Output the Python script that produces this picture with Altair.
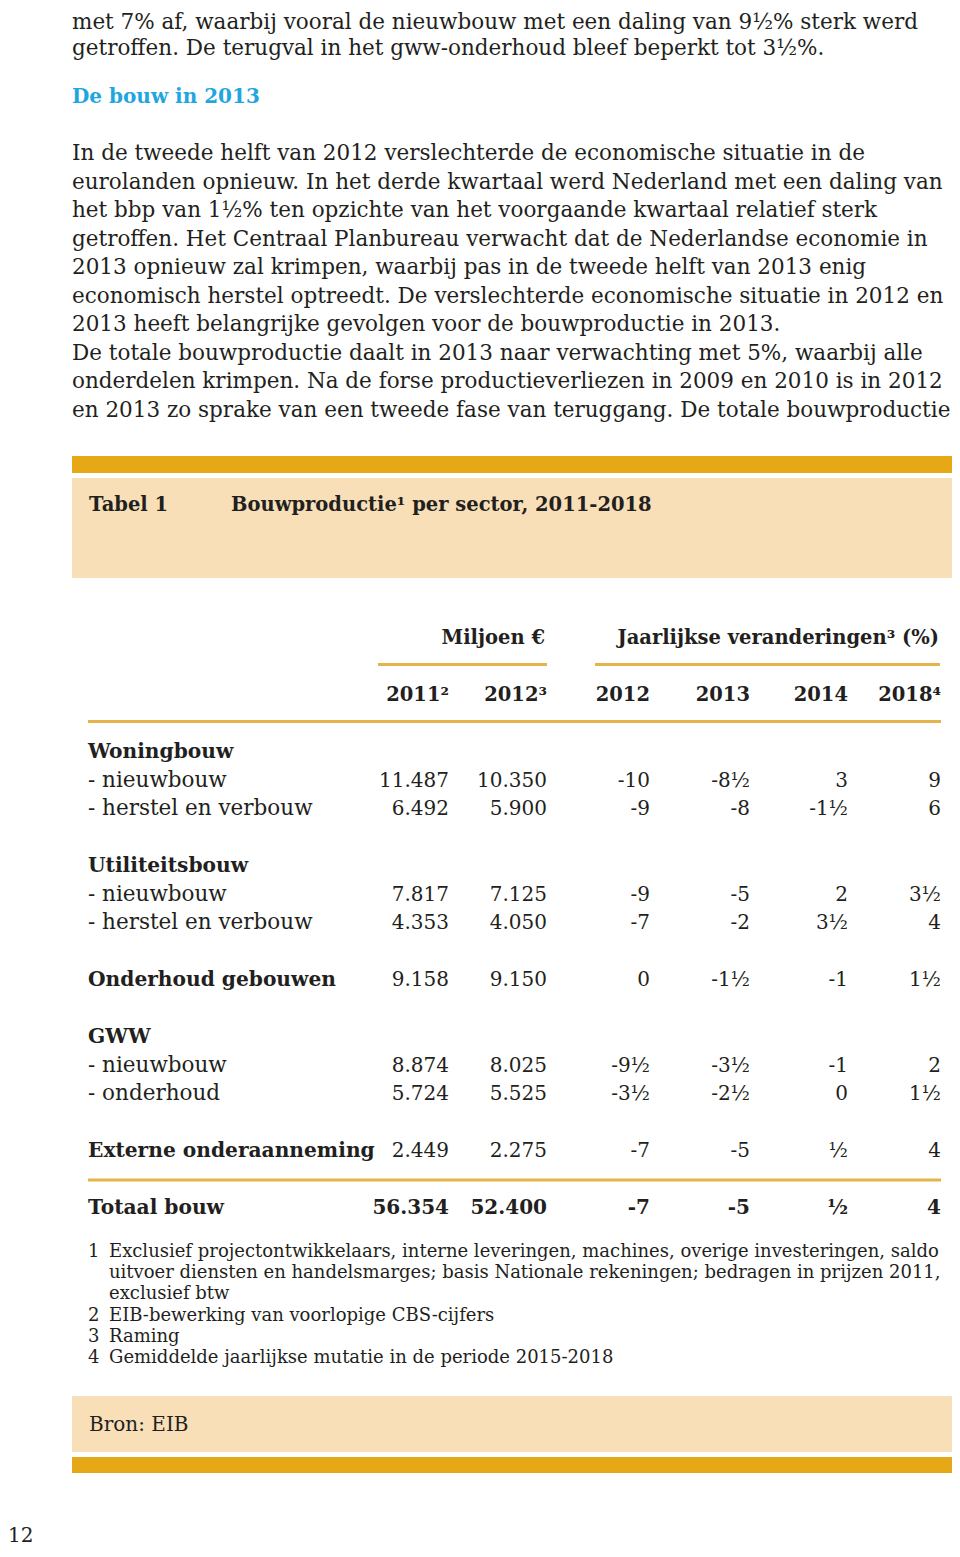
import altair as alt
import pandas as pd

# ------------------------------------------------------------------ data
intro_lines = [
    "met 7% af, waarbij vooral de nieuwbouw met een daling van 9½% sterk werd",
    "getroffen. De terugval in het gww-onderhoud bleef beperkt tot 3½%.",
]
heading = "De bouw in 2013"
para_lines = [
    "In de tweede helft van 2012 verslechterde de economische situatie in de",
    "eurolanden opnieuw. In het derde kwartaal werd Nederland met een daling van",
    "het bbp van 1½% ten opzichte van het voorgaande kwartaal relatief sterk",
    "getroffen. Het Centraal Planbureau verwacht dat de Nederlandse economie in",
    "2013 opnieuw zal krimpen, waarbij pas in de tweede helft van 2013 enig",
    "economisch herstel optreedt. De verslechterde economische situatie in 2012 en",
    "2013 heeft belangrijke gevolgen voor de bouwproductie in 2013.",
    "De totale bouwproductie daalt in 2013 naar verwachting met 5%, waarbij alle",
    "onderdelen krimpen. Na de forse productieverliezen in 2009 en 2010 is in 2012",
    "en 2013 zo sprake van een tweede fase van teruggang. De totale bouwproductie",
]
table_label = "Tabel 1"
table_title = "Bouwproductie¹ per sector, 2011-2018"
group_headers = ["Miljoen €", "Jaarlijkse veranderingen³ (%)"]
col_headers = ["2011²", "2012³", "2012", "2013", "2014", "2018⁴"]

row_labels = [
    "Woningbouw", "- nieuwbouw", "- herstel en verbouw", "",
    "Utiliteitsbouw", "- nieuwbouw", "- herstel en verbouw", "",
    "Onderhoud gebouwen", "",
    "GWW", "- nieuwbouw", "- onderhoud", "",
    "Externe onderaanneming", "",
    "Totaal bouw",
]
mln_2011 = [None, 11487, 6492, None, None, 7817, 4353, None, 9158, None,
            None, 8874, 5724, None, 2449, None, 56354]
mln_2012 = [None, 10350, 5900, None, None, 7125, 4050, None, 9150, None,
            None, 8025, 5525, None, 2275, None, 52400]
chg_2012 = [None, -10, -9, None, None, -9, -7, None, 0, None,
            None, -9.5, -3.5, None, -7, None, -7]
chg_2013 = [None, -8.5, -8, None, None, -5, -2, None, -1.5, None,
            None, -3.5, -2.5, None, -5, None, -5]
chg_2014 = [None, 3, -1.5, None, None, 2, 3.5, None, -1, None,
            None, -1, 0, None, 0.5, None, 0.5]
chg_2018 = [None, 9, 6, None, None, 3.5, 4, None, 1.5, None,
            None, 2, 1.5, None, 4, None, 4]

footnote_numbers = ["1", "", "", "2", "3", "4"]
footnote_lines = [
    "Exclusief projectontwikkelaars, interne leveringen, machines, overige investeringen, saldo",
    "uitvoer diensten en handelsmarges; basis Nationale rekeningen; bedragen in prijzen 2011,",
    "exclusief btw",
    "EIB-bewerking van voorlopige CBS-cijfers",
    "Raming",
    "Gemiddelde jaarlijkse mutatie in de periode 2015-2018",
]
source_text = "Bron: EIB"
page_number = "12"

# ------------------------------------------------------------------ style / layout
FONT = "DejaVu Serif"
INK = "#231f20"
BLUE = "#1fa6df"
ORANGE = "#e6a817"
BEIGE = "#f8dfb8"
GOLD = "#e2b449"
BODY = 21.5
LABEL = 21.5
BOLDROW = 20.2
VALUE = 20
HEAD = 19.5
NOTE = 18
PITCH = 28.5

texts = []
rects = []


def add_text(x, y, t, size=BODY, align="left", weight="normal", color=INK):
    texts.append(dict(x=x, y=y, text=t, size=size, align=align,
                      weight=weight, color=color))


def fmt_mln(v):
    return f"{v:,}".replace(",", ".")


def fmt_chg(v):
    sign = "-" if v < 0 else ""
    a = abs(v)
    whole = int(a)
    half = (a - whole) > 0.25
    s = (str(whole) if whole or not half else "") + ("½" if half else "")
    return sign + s


# body text
add_text(72, 21, intro_lines[0])
add_text(72, 47, intro_lines[1])
add_text(72, 95, heading, size=20, weight="bold", color=BLUE)
for i, t in enumerate(para_lines):
    add_text(72, 152 + PITCH * i, t)

# table frame
rects.append(dict(x=72, x2=954, y=456, y2=473, color=ORANGE))
rects.append(dict(x=72, x2=954, y=478, y2=578, color=BEIGE))
add_text(89, 503, table_label, size=HEAD, weight="bold")
add_text(231, 503, table_title, size=HEAD, weight="bold")

# headers
add_text(545, 636, group_headers[0], size=HEAD, align="right", weight="bold")
add_text(939, 636, group_headers[1], size=HEAD, align="right", weight="bold")
rects.append(dict(x=378, x2=547, y=663, y2=666, color=GOLD))
rects.append(dict(x=595, x2=940, y=663, y2=666, color=GOLD))
col_right = [449, 547, 650, 750, 848, 941]
for xr, h in zip(col_right, col_headers):
    add_text(xr, 693, h, size=HEAD, align="right", weight="bold")
rects.append(dict(x=88, x2=941, y=720, y2=723, color=GOLD))

# body rows
columns = [mln_2011, mln_2012, chg_2012, chg_2013, chg_2014, chg_2018]
formatters = [fmt_mln, fmt_mln, fmt_chg, fmt_chg, fmt_chg, fmt_chg]
last = len(row_labels) - 1
for r, lab in enumerate(row_labels):
    y = 750 + PITCH * r
    if lab:
        if lab.startswith("- "):
            add_text(88, y, lab, size=LABEL)
        else:
            add_text(88, y, lab, size=BOLDROW, weight="bold")
    for xr, col, f in zip(col_right, columns, formatters):
        v = col[r]
        if v is not None:
            add_text(xr, y, f(v), size=VALUE, align="right",
                     weight="bold" if r == last else "normal")
rects.append(dict(x=88, x2=941, y=1178.5, y2=1181.5, color=GOLD))

# footnotes
for i, (n, t) in enumerate(zip(footnote_numbers, footnote_lines)):
    y = 1250 + 21.2 * i
    if n:
        add_text(88, y, n, size=NOTE)
    add_text(109, y, t, size=NOTE)

# source box
rects.append(dict(x=72, x2=954, y=1396, y2=1452, color=BEIGE))
rects.append(dict(x=72, x2=954, y=1457, y2=1473, color=ORANGE))
add_text(89, 1423, source_text, size=20)
add_text(8, 1534, page_number, size=20)

# ------------------------------------------------------------------ chart
XS = alt.Scale(domain=[8, 952])
YS = alt.Scale(domain=[8, 1549], reverse=True)

rect_df = pd.DataFrame(rects)
rect_layer = alt.Chart(rect_df).mark_rect().encode(
    x=alt.X("x:Q", scale=XS, axis=None),
    x2="x2:Q",
    y=alt.Y("y:Q", scale=YS, axis=None),
    y2="y2:Q",
    color=alt.Color("color:N", scale=None),
)

tdf = pd.DataFrame(texts)
layers = [rect_layer]
for (align, weight), sub in tdf.groupby(["align", "weight"]):
    layers.append(
        alt.Chart(sub).mark_text(align=align, baseline="middle", font=FONT,
                                 fontWeight=weight, dy=2).encode(
            x=alt.X("x:Q", scale=XS, axis=None),
            y=alt.Y("y:Q", scale=YS, axis=None),
            text="text:N",
            size=alt.Size("size:Q", scale=None),
            color=alt.Color("color:N", scale=None),
        )
    )

chart = alt.layer(*layers).properties(
    width=944, height=1541, padding=0,
    autosize=alt.AutoSizeParams(type="none"),
    background="white",
).configure_view(strokeWidth=0)

chart.save("out.html", embed_options={"renderer": "svg", "actions": False})
